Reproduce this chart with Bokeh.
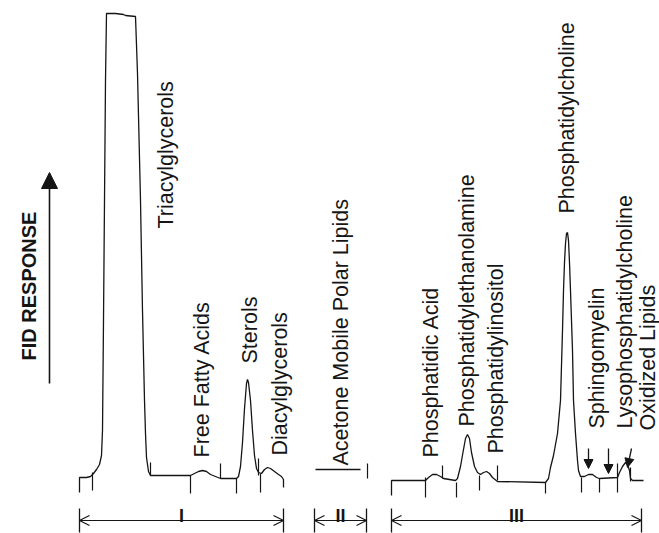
import numpy as np
from bokeh.plotting import figure
from bokeh.models import Range1d, ColumnDataSource, Arrow, NormalHead, OpenHead
from bokeh.embed import file_html
from bokeh.resources import INLINE
from bokeh.core.properties import value

# ---- Section I trace (position, FID response) ----
sec1_x = [79, 79, 86, 90, 93, 96, 99, 101, 102, 103, 104, 105, 106, 115, 123, 125, 135,
          137, 140, 142, 144, 145, 146, 148, 150, 190, 194, 198, 202, 206, 210, 215, 220,
          236, 238, 240, 242, 244, 246, 247, 248, 250, 252, 254, 256, 258, 261, 264, 267,
          270, 274, 278, 281, 283, 283]
sec1_y = [41, 56, 56, 57, 60, 64, 69, 78, 103, 213, 333, 453, 520, 520, 519, 518, 517,
          460, 333, 223, 133, 100, 76, 62, 58, 58, 60, 62, 63, 62, 59, 57, 55,
          55, 57, 67, 91, 125, 150, 154, 151, 133, 103, 78, 65, 61, 60, 64, 66,
          65, 62, 59, 57, 54, 46]

# ---- Section II trace ----
sec2_x = [315, 360]
sec2_y = [64, 64]

# ---- Section III trace ----
sec3_x = [391, 391, 425, 428, 432, 436, 440, 443, 455, 457, 460, 463, 465, 467, 469, 471,
          474, 477, 480, 483, 486, 489, 492, 497, 545, 548, 550, 553, 557, 560, 562, 563,
          564, 565, 566, 567, 568, 569, 570, 571, 572, 573, 575, 577, 578, 580, 584, 588,
          592, 596, 599, 617, 619, 622, 625, 627, 629, 630, 632, 643]
sec3_y = [38, 53, 53, 56, 59, 59, 57, 55, 53, 55, 67, 84, 95, 99, 95, 81,
          67, 61, 59, 61, 62, 60, 56, 52, 51, 55, 66, 78, 100, 133, 203, 243,
          271, 290, 300, 301, 293, 271, 243, 213, 183, 133, 100, 73, 63, 57, 57, 59,
          59, 56, 55, 56, 61, 67, 71, 69, 63, 55, 53, 53]

# ---- integrator event marks ----
tick_x = [92, 150, 190, 220, 236, 258, 260, 367, 425, 442, 456, 479, 497, 545, 581, 599, 617, 630]
tick_lo = [43, 58, 40, 55, 40, 58, 41, 55, 36, 55, 36, 43, 53, 40, 41, 41, 41, 52]
tick_hi = [61, 71, 58, 70, 55, 75, 60, 70, 56, 68, 51, 58, 68, 51, 56, 55, 70, 66]

# ---- peak names ----
peak_names = ["Triacylglycerols", "Free Fatty Acids", "Sterols", "Diacylglycerols",
              "Acetone Mobile Polar Lipids", "Phosphatidic Acid", "Phosphatidylethanolamine",
              "Phosphatidylinositol", "Phosphatidylcholine", "Sphingomyelin",
              "Lysophosphatidylcholine", "Oxidized Lipids"]
name_x = [165.5, 201.5, 249.5, 279.5, 340.5, 430.5, 466.5, 495.5, 566.5, 596.5, 624.5, 647.5]
name_y = [305, 76, 170, 78, 68, 76, 107, 80, 320, 105, 105, 103]

# ---- small arrows to minor peaks ----
parrow_x0 = [588, 608, 631]
parrow_y0 = [85, 85, 85]
parrow_x1 = [588, 608, 627]
parrow_y1 = [65, 60, 66]

# ---- sections ----
sec_names = ["I", "II", "III"]
sec_start = [79, 314, 391]
sec_end = [283, 366, 641]
sec_level = 13
sec_bar_lo = 1
sec_bar_hi = 25
sec_label_y = 18

p = figure(width=659, height=533, x_range=Range1d(0, 659), y_range=Range1d(0, 533),
           x_axis_type=None, y_axis_type=None, output_backend="svg",
           toolbar_location=None, min_border=0)
p.grid.visible = False
p.outline_line_color = None
p.background_fill_color = "white"
p.border_fill_color = "white"

ink = "#151515"
for xs, ys in [(sec1_x, sec1_y), (sec2_x, sec2_y), (sec3_x, sec3_y)]:
    p.line(xs, ys, line_color=ink, line_width=1.3)

p.segment(x0=tick_x, y0=tick_lo, x1=tick_x, y1=tick_hi, line_color=ink, line_width=1.2)

lab = ColumnDataSource(dict(x=name_x, y=name_y, text=peak_names))
p.text(x="x", y="y", text="text", source=lab, angle=np.pi / 2,
       text_font=value("Liberation Sans"), text_font_size="21.5px",
       text_baseline="alphabetic", text_align="left", text_color=ink)

# axis label with arrow
fid = ColumnDataSource(dict(x=[28.5], y=[173], text=["FID RESPONSE"]))
p.text(x="x", y="y", text="text", source=fid, angle=np.pi / 2,
       text_font=value("Liberation Sans"), text_font_size="20px", text_font_style="bold",
       text_baseline="alphabetic", text_align="left", text_color=ink)
p.add_layout(Arrow(end=NormalHead(size=16, fill_color=ink, line_color=ink),
                   x_start=49, y_start=150, x_end=49, y_end=361,
                   line_color=ink, line_width=1.6))

pa = ColumnDataSource(dict(x0=parrow_x0, y0=parrow_y0, x1=parrow_x1, y1=parrow_y1))
p.add_layout(Arrow(end=NormalHead(size=9, fill_color=ink, line_color=ink),
                   x_start="x0", y_start="y0", x_end="x1", y_end="y1", source=pa,
                   line_color=ink, line_width=1.3))

# section brackets
sb = ColumnDataSource(dict(x0=sec_start, x1=sec_end, y=[sec_level] * 3))
p.add_layout(Arrow(start=OpenHead(size=10, line_color=ink, line_width=1.2),
                   end=OpenHead(size=10, line_color=ink, line_width=1.2),
                   x_start="x0", y_start="y", x_end="x1", y_end="y", source=sb,
                   line_color=ink, line_width=1.2))
bar_x = sec_start + sec_end
p.segment(x0=bar_x, y0=[sec_bar_lo] * len(bar_x), x1=bar_x, y1=[sec_bar_hi] * len(bar_x),
          line_color=ink, line_width=1.3)
sl = ColumnDataSource(dict(x=[(a + b) / 2 for a, b in zip(sec_start, sec_end)],
                           y=[sec_label_y] * 3, text=sec_names))
p.text(x="x", y="y", text="text", source=sl, text_font=value("Liberation Sans"),
       text_font_size="18px", text_font_style="bold", text_align="center",
       text_baseline="alphabetic", text_color=ink)

open("out.html", "w").write(file_html(p, INLINE))
